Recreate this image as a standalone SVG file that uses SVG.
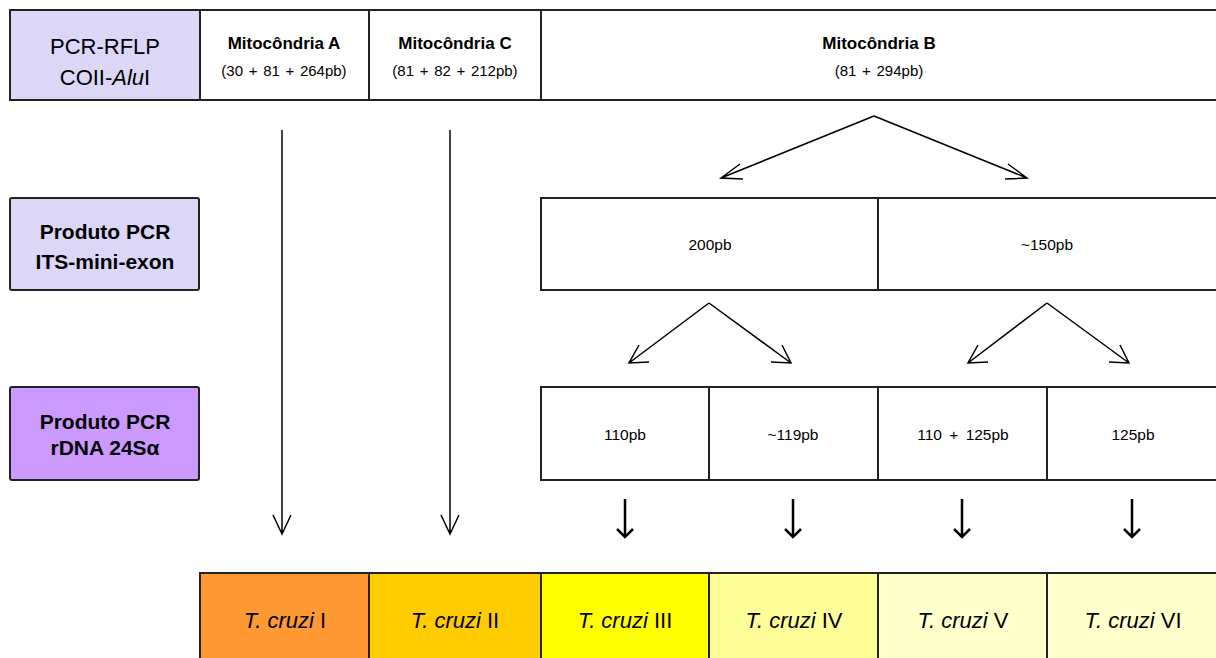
<svg xmlns="http://www.w3.org/2000/svg" width="1216" height="658" viewBox="0 0 1216 658">
<defs>
<style>
.box{stroke:#222;stroke-width:2;}
.w{fill:#fff;}
.lav{fill:#dcd6f7;}
.pur{fill:#cc99ff;}
.t{font-family:"Liberation Sans",Arial,sans-serif;fill:#000;text-anchor:middle;}
.lbl{font-size:22px;}
.lblb{font-size:21px;font-weight:bold;}
.mt{font-size:17px;font-weight:bold;}
.ms{font-size:15px;word-spacing:1.5px;}
.c{font-size:15.5px;word-spacing:3px;}
.tc{font-size:22px;}
.ln{stroke:#000;stroke-width:1.5;fill:none;}
.lnb{stroke:#000;stroke-width:2.5;fill:none;}
</style>
</defs>
<rect width="1216" height="658" fill="#fff"/>

<g id="row1">
<rect class="box w" x="10" y="10" width="1220" height="90"/>
<g id="pcr-rflp">
<rect class="box lav" x="10" y="10" width="190" height="90"/>
<text class="t lbl" x="105" y="54">PCR-RFLP</text>
<text class="t lbl" x="105" y="85">COII-<tspan font-style="italic">Alu</tspan>I</text>
</g>
<g id="mito-a">
<rect class="box w" x="200" y="10" width="169" height="90"/>
<text class="t mt" x="284" y="49">Mitocôndria A</text>
<text class="t ms" x="284" y="76">(30 + 81 + 264pb)</text>
</g>
<g id="mito-c">
<rect class="box w" x="369" y="10" width="172" height="90"/>
<text class="t mt" x="455" y="49">Mitocôndria C</text>
<text class="t ms" x="455" y="76">(81 + 82 + 212pb)</text>
</g>
<g id="mito-b">
<rect class="box w" x="541" y="10" width="690" height="90"/>
<text class="t mt" x="879" y="49">Mitocôndria B</text>
<text class="t ms" x="879" y="76">(81 + 294pb)</text>
</g>
</g>

<g id="row2">
<g id="its">
<rect class="box lav" x="10" y="198" width="189" height="92" rx="2"/>
<text class="t lblb" x="105" y="239">Produto PCR</text>
<text class="t lblb" x="105" y="269">ITS-mini-exon</text>
</g>
<g id="c200">
<rect class="box w" x="541" y="198" width="337" height="92"/>
<text class="t c" x="710" y="250">200pb</text>
</g>
<g id="c150">
<rect class="box w" x="878" y="198" width="350" height="92"/>
<text class="t c" x="1047" y="250">~150pb</text>
</g>
</g>

<g id="row3">
<g id="rdna">
<rect class="box pur" x="10" y="387" width="189" height="93" rx="2"/>
<text class="t lblb" x="105" y="429">Produto PCR</text>
<text class="t lblb" x="105" y="455">rDNA 24Sα</text>
</g>
<g id="c110">
<rect class="box w" x="541" y="387" width="168" height="93"/>
<text class="t c" x="625" y="440">110pb</text>
</g>
<g id="c119">
<rect class="box w" x="709" y="387" width="169" height="93"/>
<text class="t c" x="793" y="440">~119pb</text>
</g>
<g id="c110125">
<rect class="box w" x="878" y="387" width="169" height="93"/>
<text class="t c" x="963" y="440">110 + 125pb</text>
</g>
<g id="c125">
<rect class="box w" x="1047" y="387" width="180" height="93"/>
<text class="t c" x="1133" y="440">125pb</text>
</g>
</g>

<g id="row4">
<g id="tc1">
<rect class="box" fill="#ff9933" x="200" y="573" width="169" height="100"/>
<text class="t tc" x="285" y="628"><tspan font-style="italic">T. cruzi</tspan> I</text>
</g>
<g id="tc2">
<rect class="box" fill="#ffcc00" x="369" y="573" width="172" height="100"/>
<text class="t tc" x="455" y="628"><tspan font-style="italic">T. cruzi</tspan> II</text>
</g>
<g id="tc3">
<rect class="box" fill="#ffff00" x="541" y="573" width="168" height="100"/>
<text class="t tc" x="625" y="628"><tspan font-style="italic">T. cruzi</tspan> III</text>
</g>
<g id="tc4">
<rect class="box" fill="#ffff99" x="709" y="573" width="169" height="100"/>
<text class="t tc" x="794" y="628"><tspan font-style="italic">T. cruzi</tspan> IV</text>
</g>
<g id="tc5">
<rect class="box" fill="#ffffcc" x="878" y="573" width="169" height="100"/>
<text class="t tc" x="963" y="628"><tspan font-style="italic">T. cruzi</tspan> V</text>
</g>
<g id="tc6">
<rect class="box" fill="#ffffcc" x="1047" y="573" width="180" height="100"/>
<text class="t tc" x="1133" y="628"><tspan font-style="italic">T. cruzi</tspan> VI</text>
</g>
</g>

<g id="connectors">
<path class="ln" d="M282 130 V534 M273 515 L282 534 L291 515"/>
<path class="ln" d="M450 130 V534 M441 515 L450 534 L459 515"/>
<path class="ln" d="M874 116 L721 178 M740 164 L721 178 L743 179"/>
<path class="ln" d="M874 116 L1027 178 M1005 179 L1027 178 L1008 164"/>
<path class="ln" d="M709 303 L629 363 M639 345 L629 363 L649 362"/>
<path class="ln" d="M709 303 L791 363 M771 362 L791 363 L782 345"/>
<path class="ln" d="M1047 303 L968 363 M978 345 L968 363 L988 362"/>
<path class="ln" d="M1047 303 L1129 363 M1109 362 L1129 363 L1120 345"/>
<path class="lnb" d="M625 499 V537 M617 529 L625 537 L633 529"/>
<path class="lnb" d="M793 499 V537 M785 529 L793 537 L801 529"/>
<path class="lnb" d="M962 499 V537 M954 529 L962 537 L970 529"/>
<path class="lnb" d="M1132 499 V537 M1124 529 L1132 537 L1140 529"/>
</g>
</svg>
